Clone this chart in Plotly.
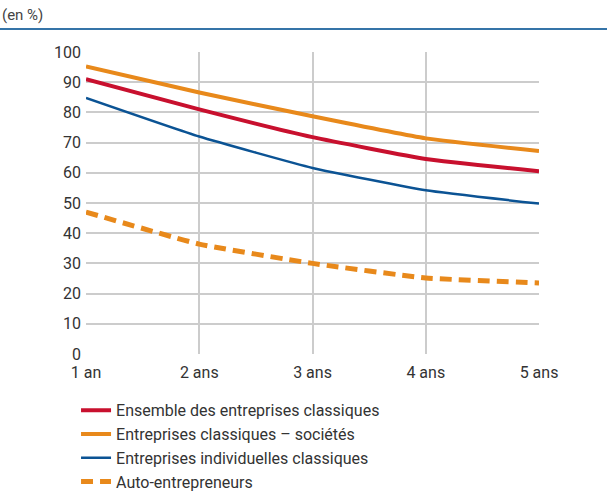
import plotly.graph_objects as go

# Survival rate of new firms by age (en %)
annees = ["1 an", "2 ans", "3 ans", "4 ans", "5 ans"]
ensemble = [91, 81, 71.8, 64.6, 60.5]
societes = [95.2, 86.6, 78.7, 71.4, 67.2]
individuelles = [84.8, 72.0, 61.6, 54.2, 49.8]
auto_entrepreneurs = [47.0, 36.4, 30.0, 25.2, 23.5]
y_ticks = list(range(0, 101, 10))

FONT = "Roboto, Arial, sans-serif"
TXT = "#333333"

series = [
    ("Ensemble des entreprises classiques", ensemble, "#c8102e", 4, "solid"),
    ("Entreprises classiques – sociétés", societes, "#e8891b", 4, "solid"),
    ("Entreprises individuelles classiques", individuelles, "#0b5394", 2.5, "solid"),
    ("Auto-entrepreneurs", auto_entrepreneurs, "#e8891b", 5, "12px,7px"),
]

fig = go.Figure()
for name, vals, color, width, dash in series:
    fig.add_trace(go.Scatter(
        x=list(range(len(annees))), y=vals, name=name, mode="lines",
        line=dict(color=color, width=width, dash=dash, shape="spline", smoothing=0.4),
    ))

fig.update_layout(
    width=607, height=494,
    margin=dict(l=86, r=68, t=52, b=140, autoexpand=False),
    paper_bgcolor="white", plot_bgcolor="white",
    font=dict(family=FONT, size=15, color=TXT),
    showlegend=True,
    legend=dict(
        x=-0.022, y=-0.13, xanchor="left", yanchor="top",
        font=dict(family=FONT, size=16, color=TXT),
        tracegroupgap=0, itemwidth=30,
        bgcolor="rgba(0,0,0,0)",
    ),
    xaxis=dict(
        range=[0, 4], tickmode="array", tickvals=list(range(len(annees))), ticktext=annees,
        showgrid=True, gridcolor="#cccccc", gridwidth=1.5,
        showline=False, zeroline=False, ticks="", ticklabelstandoff=7,
        tickfont=dict(family=FONT, size=16, color=TXT),
    ),
    yaxis=dict(
        range=[0, 100], tickvals=y_ticks,
        showgrid=True, gridcolor="#cccccc", gridwidth=1.5,
        showline=False, zeroline=False, ticks="", ticklabelstandoff=4,
        tickfont=dict(family=FONT, size=16, color=TXT),
    ),
    annotations=[dict(
        text="(en %)", xref="paper", yref="paper",
        x=-86 / 453, y=1 + 37 / 302, xanchor="left", yanchor="middle",
        showarrow=False, font=dict(family=FONT, size=15, color="#444444"),
    )],
    shapes=[dict(
        type="line", xref="paper", yref="paper",
        x0=-86 / 453, x1=521 / 453, y0=1 + 23 / 302, y1=1 + 23 / 302,
        line=dict(color="#3574a8", width=2),
    )],
)

fig.write_html("out.html")
